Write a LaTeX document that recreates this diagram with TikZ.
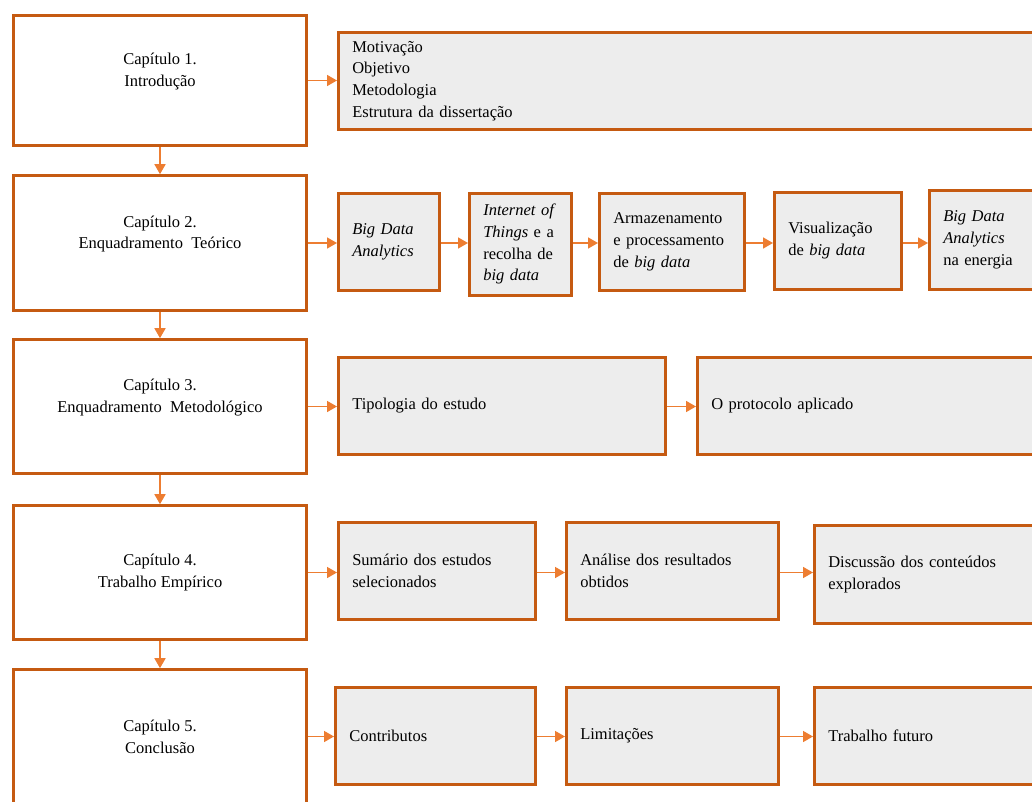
\documentclass[tikz,border=0pt]{standalone}
\usepackage{fontspec}
\setmainfont{Liberation Serif}
\usetikzlibrary{arrows.meta,positioning}
\definecolor{boxorange}{HTML}{C55A11}
\definecolor{arrorange}{HTML}{ED7D31}
\definecolor{boxgray}{HTML}{EDEDED}

\begin{document}
\begin{tikzpicture}[x=1pt,y=-1pt,>={Triangle[length=10pt,width=11pt]},
  font=\fontsize{16.5pt}{21.7pt}\selectfont,
  chap/.style={draw=boxorange,line width=2.6pt,fill=white,minimum width=293pt,align=center},
  item/.style={draw=boxorange,line width=2.6pt,fill=boxgray,anchor=north west,align=left,inner xsep=14pt,inner ysep=0pt},
  link/.style={->,color=arrorange,line width=1.6pt}]
  \useasboundingbox (0,0) rectangle (1032,802);
  \clip (0,0) rectangle (1032,802);

  % chapters
  \node[chap,minimum height=130pt] (ch1) at (160,80.5) {Capítulo 1.\\Introdução\\\mbox{}};
  \node[chap,minimum height=135pt] (ch2) at (160,243) {Capítulo 2.\\Enquadramento\ \ Teórico\\\mbox{}};
  \node[chap,minimum height=134pt] (ch3) at (160,406.5) {Capítulo 3.\\Enquadramento\ \ Metodológico\\\mbox{}};
  \node[chap,minimum height=134pt] (ch4) at (160,572.5) {Capítulo 4.\\Trabalho Empírico};
  \node[chap,minimum height=134pt] (ch5) at (160,736.5) {Capítulo 5.\\Conclusão};

  % contents of each chapter
  \foreach \nm/\x/\y/\w/\h/\txt in {
      r1/337/31/720/97/{Motivação\\Objetivo\\Metodologia\\Estrutura da dissertação},
      r2a/337/192/101/97/{\textit{Big Data}\\\textit{Analytics}},
      r2b/468/192/102/102/{\textit{Internet of}\\\textit{Things} e a\\recolha de\\\textit{big data}},
      r2c/598/192/145/97/{Armazenamento\\e processamento\\de \textit{big data}},
      r2d/773/191/127/97/{Visualização\\de \textit{big data}},
      r2e/928/189/130/99/{\textit{Big Data}\\\textit{Analytics}\\na energia},
      r3a/337/356/327/97/{Tipologia do estudo},
      r3b/696/356/360/97/{O protocolo aplicado},
      r4a/337/521/197/97/{Sumário dos estudos\\selecionados},
      r4b/565/521/212/97/{Análise dos resultados\\obtidos},
      r4c/813/524/240/98/{Discussão dos conteúdos\\explorados},
      r5a/334/686/200/97/{Contributos},
      r5b/565/686/212/97/{Limitações},
      r5c/813/686/240/97/{Trabalho futuro}}{
    \pgfmathsetmacro{\tw}{\w-28}
    \node[item,minimum width=\w pt,minimum height=\h pt,text width=\tw pt] (\nm) at (\x,\y) {\txt};
  }

  % arrows
  \foreach \a/\b in {ch1/ch2,ch2/ch3,ch3/ch4,ch4/ch5}
    \draw[link] (\a.south) -- (\b.north);
  \foreach \a/\b/\c in {ch1/r1/ch1,ch2/r2a/ch2,r2a/r2b/ch2,r2b/r2c/ch2,r2c/r2d/ch2,r2d/r2e/ch2,
                        ch3/r3a/ch3,r3a/r3b/ch3,ch4/r4a/ch4,r4a/r4b/ch4,r4b/r4c/ch4,
                        ch5/r5a/ch5,r5a/r5b/ch5,r5b/r5c/ch5}
    \draw[link] (\a.east |- \c.east) -- (\b.west |- \c.east);
\end{tikzpicture}
\end{document}
